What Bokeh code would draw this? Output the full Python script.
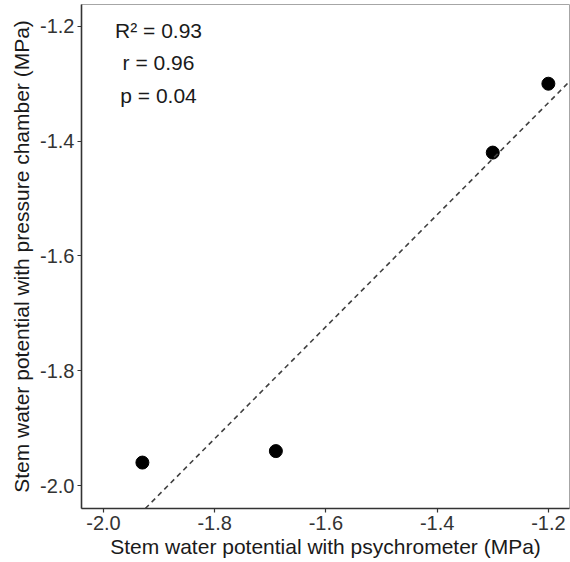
import numpy as np
from bokeh.plotting import figure
from bokeh.models import Range1d, FixedTicker, Slope, ColumnDataSource
from bokeh.core.properties import value
from bokeh.embed import file_html
from bokeh.resources import INLINE

# Data
psychrometer = [-1.93, -1.69, -1.30, -1.20]
pressure_chamber = [-1.96, -1.94, -1.42, -1.30]
x_ticks = [-2.0, -1.8, -1.6, -1.4, -1.2]
y_ticks = [-2.0, -1.8, -1.6, -1.4, -1.2]
stat_labels = ["R² = 0.93", "r = 0.96", "p = 0.04"]
stat_x = [-1.901, -1.901, -1.901]
stat_y = [-1.207, -1.263, -1.320]

FONT = "Liberation Sans"

p = figure(width=570, height=562, output_backend="svg", toolbar_location=None,
           x_range=Range1d(-2.0395, -1.162), y_range=Range1d(-2.040, -1.162),
           min_border_left=81, min_border_right=1, min_border_top=4, min_border_bottom=54)
p.xgrid.visible = False
p.ygrid.visible = False
p.background_fill_color = "white"
p.border_fill_color = "white"
p.outline_line_color = "#a6a6a6"
p.outline_line_width = 1

for ax in (p.xaxis[0], p.yaxis[0]):
    ax.axis_line_color = "#333333"
    ax.axis_line_width = 1.6
    ax.major_tick_line_color = "#333333"
    ax.major_tick_line_width = 1.2
    ax.major_tick_in = 0
    ax.major_tick_out = 4
    ax.minor_tick_line_color = None
    ax.major_label_text_font = FONT
    ax.major_label_text_font_size = "20px"
    ax.major_label_text_color = "#333333"
    ax.major_label_standoff = 3
    ax.axis_label_text_font = FONT
    ax.axis_label_text_font_size = "21px"
    ax.axis_label_text_font_style = "normal"
    ax.axis_label_text_color = "#1a1a1a"

p.xaxis.ticker = FixedTicker(ticks=x_ticks)
p.yaxis.ticker = FixedTicker(ticks=y_ticks)
p.xaxis.major_label_overrides = {t: f"{t:.1f}" for t in x_ticks}
p.yaxis.major_label_overrides = {t: f"{t:.1f}" for t in y_ticks}
p.xaxis.axis_label = "Stem water potential with psychrometer (MPa)"
p.yaxis.axis_label = "Stem water potential with pressure chamber (MPa)"
p.xaxis.axis_label_standoff = 2
p.yaxis.axis_label_standoff = 4

# Linear regression line computed from the data
x = np.array(psychrometer)
y = np.array(pressure_chamber)
slope, intercept = np.polyfit(x, y, 1)
p.add_layout(Slope(gradient=float(slope), y_intercept=float(intercept),
                   line_color="#404040", line_width=1.6, line_dash="5 4"))

p.scatter(psychrometer, pressure_chamber, size=13, color="black")

src = ColumnDataSource(dict(x=stat_x, y=stat_y, t=stat_labels))
p.text(x="x", y="y", text="t", source=src, text_font=value(FONT),
       text_font_size="21px", text_align="center", text_baseline="middle",
       text_color="#1a1a1a")

open("out.html", "w").write(file_html(p, INLINE))
